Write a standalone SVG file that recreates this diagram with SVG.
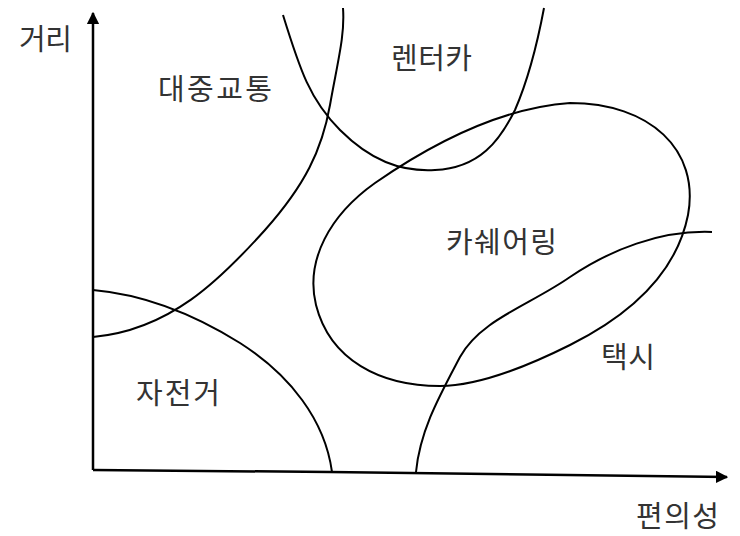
<svg xmlns="http://www.w3.org/2000/svg" width="740" height="536" viewBox="0 0 740 536">
<style>
.c{fill:none;stroke:#000;stroke-width:2}
.ax{fill:none;stroke:#000;stroke-width:2.5}
text{font-family:"Noto Sans CJK KR","Noto Sans",sans-serif;font-size:29px;fill:#333}
</style>
<defs>
<marker id="ah" viewBox="0 0 10 10" refX="9" refY="5" markerWidth="5" markerHeight="5" orient="auto" markerUnits="strokeWidth">
<path d="M0,0 L10,5 L0,10 z" fill="#000"/>
</marker>
</defs>
<rect width="740" height="536" fill="#fff"/>
<g id="axes">
<path class="ax" d="M93,470 L93,13" marker-end="url(#ah)"/>
<path class="ax" d="M93,470 L330,472 L727,477" marker-end="url(#ah)"/>
</g>
<g id="connectors">
<path id="public" class="c" d="M93,337 C170,330 220,280 265,230 C305,185 322,150 330,105 C338,60 345,35 343,8"/>
<path id="rentcar" class="c" d="M283,15 C300,70 310,100 340,130 C370,160 400,172 435,170 C480,168 500,140 515,110 C528,80 538,40 544,8"/>
<path id="carsharing" class="c" d="M570,103 C650,103 700,150 688,215 C678,265 640,310 570,345 C520,370 475,386 440,386 C380,386 330,360 316,305 C305,260 330,215 375,183 C430,145 500,108 570,103 Z"/>
<path id="bicycle" class="c" d="M93,290 C150,295 200,318 240,343 C290,375 325,420 332,472"/>
<path id="taxi" class="c" d="M712,232 C660,230 610,250 570,277 C530,305 480,320 460,357 C440,395 420,430 416,472"/>
</g>
<g id="n-distance"><text x="19" y="50" textLength="53">거리</text></g>
<g id="n-public"><text x="158" y="100" textLength="114">대중교통</text></g>
<g id="n-rentcar"><text x="391" y="69" textLength="81">렌터카</text></g>
<g id="n-carsharing"><text x="446" y="253" textLength="111">카쉐어링</text></g>
<g id="n-bicycle"><text x="136" y="404" textLength="84">자전거</text></g>
<g id="n-taxi"><text x="601" y="368" textLength="54">택시</text></g>
<g id="n-convenience"><text x="636" y="527" font-size="28" textLength="83">편의성</text></g>
</svg>
